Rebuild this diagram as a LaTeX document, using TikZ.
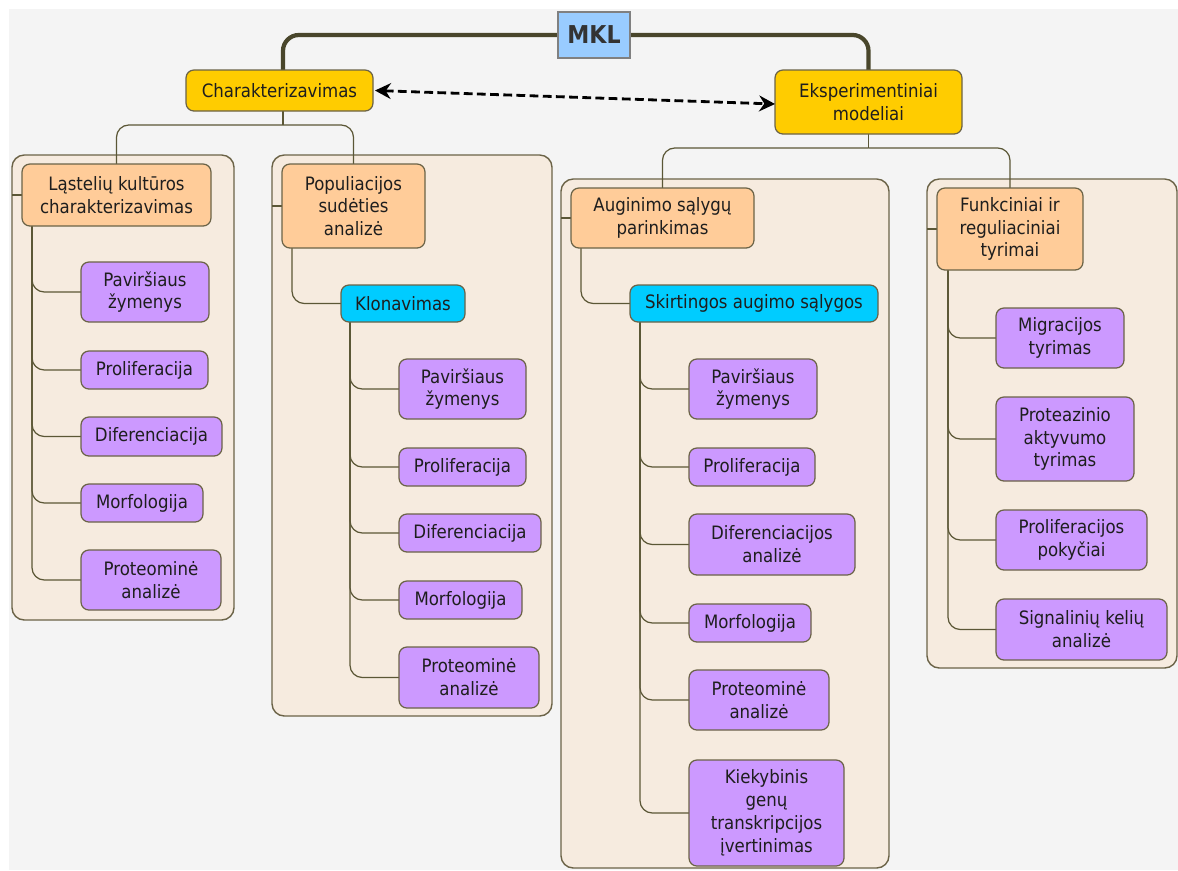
\documentclass[tikz,border=0pt]{standalone}
\usepackage{fontspec}
\setmainfont{DejaVu Sans Condensed}
\usetikzlibrary{arrows.meta}
\pgfdeclarelayer{back}
\pgfdeclarelayer{mid}
\pgfsetlayers{back,mid,main}
\definecolor{bggray}{HTML}{F4F4F4}
\definecolor{gold}{HTML}{FFCC00}
\definecolor{orng}{HTML}{FFCC99}
\definecolor{cyn}{HTML}{00CCFF}
\definecolor{purp}{HTML}{CC99FF}
\definecolor{mklblue}{HTML}{99CCFF}
\definecolor{contfill}{HTML}{F6EBDF}
\definecolor{edge}{HTML}{6B6347}
\definecolor{conncol}{HTML}{5B5736}
\definecolor{txt}{HTML}{1E1E1E}
\tikzset{
  box/.style={draw=edge, line width=0.7pt, rounded corners=4.5pt, inner sep=0pt, outer sep=0pt, align=center, text=txt, font=\fontsize{10.5}{13}\selectfont},
  goldbox/.style={box, fill=gold},
  orngbox/.style={box, fill=orng},
  cynbox/.style={box, fill=cyn},
  purpbox/.style={box, fill=purp},
  mklbox/.style={draw=gray, line width=0.8pt, fill=mklblue, inner sep=0pt, outer sep=0pt, text=black!80, font=\fontsize{14}{16}\selectfont\bfseries},
  contbox/.style={draw=edge, line width=0.8pt, fill=contfill, rounded corners=7pt, inner sep=0pt, outer sep=0pt},
  conn/.style={draw=conncol, line width=0.7pt, rounded corners=7pt},
  bigconn/.style={draw=conncol!80!black, line width=2.4pt, rounded corners=9pt},
  dbl/.style={draw=black, line width=1.6pt, dash pattern=on 5pt off 2.5pt, {Stealth[length=9pt,width=9pt]}-{Stealth[length=9pt,width=9pt]}}
}
\newcommand\B[7]{\node[#2, minimum width={(#5-#3)*0.02cm}, minimum height={(#6-#4)*0.02cm}] (#1) at ({(#3+#5)/2},{(#4+#6)/2}) {#7};}
\begin{document}
\begin{tikzpicture}[x=0.02cm, y=-0.02cm]
\useasboundingbox (0,0) rectangle (1178,870);
% background and containers
\begin{pgfonlayer}{back}
\fill[white] (0,0) rectangle (1178,870);
\fill[bggray] (9,9) rectangle (1178,870);
\B{c1}{contbox}{12}{155}{234}{620}{}
\B{c2}{contbox}{272}{155}{552}{716}{}
\B{c3}{contbox}{561}{179}{889}{868}{}
\B{c4}{contbox}{927}{179}{1177}{668}{}
\end{pgfonlayer}
% top level
\B{mkl}{mklbox}{558}{12}{630}{58}{MKL}
\B{char}{goldbox}{186}{70}{373}{111}{Charakterizavimas}
\B{eks}{goldbox}{775}{70}{962}{134}{Eksperimentiniai\\modeliai}
% group 1
\B{lk}{orngbox}{22}{164}{211}{226}{Ląstelių kultūros\\charakterizavimas}
\B{a1}{purpbox}{81}{262}{209}{322}{Paviršiaus\\žymenys}
\B{a2}{purpbox}{81}{351}{208}{389}{Proliferacija}
\B{a3}{purpbox}{81}{417}{222}{456}{Diferenciacija}
\B{a4}{purpbox}{81}{484}{203}{522}{Morfologija}
\B{a5}{purpbox}{81}{550}{221}{610}{Proteominė\\analizė}
% group 2
\B{ps}{orngbox}{282}{164}{425}{248}{Populiacijos\\sudėties\\analizė}
\B{kl}{cynbox}{341}{285}{465}{322}{Klonavimas}
\B{b1}{purpbox}{399}{359}{526}{419}{Paviršiaus\\žymenys}
\B{b2}{purpbox}{399}{448}{526}{486}{Proliferacija}
\B{b3}{purpbox}{399}{514}{541}{552}{Diferenciacija}
\B{b4}{purpbox}{399}{581}{522}{619}{Morfologija}
\B{b5}{purpbox}{399}{647}{539}{708}{Proteominė\\analizė}
% group 3
\B{ag}{orngbox}{571}{188}{754}{248}{Auginimo sąlygų\\parinkimas}
\B{sk}{cynbox}{630}{285}{878}{322}{Skirtingos augimo sąlygos}
\B{d1}{purpbox}{689}{359}{817}{419}{Paviršiaus\\žymenys}
\B{d2}{purpbox}{689}{448}{815}{486}{Proliferacija}
\B{d3}{purpbox}{689}{514}{855}{575}{Diferenciacijos\\analizė}
\B{d4}{purpbox}{689}{604}{811}{642}{Morfologija}
\B{d5}{purpbox}{689}{670}{829}{730}{Proteominė\\analizė}
\B{d6}{purpbox}{689}{760}{844}{866}{Kiekybinis\\genų\\transkripcijos\\įvertinimas}
% group 4
\B{fr}{orngbox}{937}{188}{1083}{270}{Funkciniai ir\\reguliaciniai\\tyrimai}
\B{e1}{purpbox}{996}{308}{1124}{368}{Migracijos\\tyrimas}
\B{e2}{purpbox}{996}{397}{1134}{481}{Proteazinio\\aktyvumo\\tyrimas}
\B{e3}{purpbox}{996}{510}{1147}{570}{Proliferacijos\\pokyčiai}
\B{e4}{purpbox}{996}{599}{1167}{660}{Signalinių kelių\\analizė}
% connectors
\begin{pgfonlayer}{mid}
\coordinate (tl) at ([xshift=3.5*0.02cm]char.north);
\coordinate (tr) at (eks.north);
\draw[conn] (tl) -- ++(0,-22);
\draw[conn] (tr) -- ++(0,-22);
\draw[bigconn] (mkl.west) -| ([yshift=-24*0.02cm]tl);
\draw[bigconn] (mkl.east) -| ([yshift=-24*0.02cm]tr);
\coordinate (j1) at ([yshift=-14*0.02cm]tl |- char.south);
\draw[conn] (tl |- char.south) -- (j1);
\draw[conn] (j1) -| (lk.north);
\draw[conn] (j1) -| (ps.north);
\coordinate (j2) at ([yshift=-14*0.02cm]eks.south);
\draw[conn] (eks.south) -- (j2);
\draw[conn] (j2) -| (ag.north);
\draw[conn] (j2) -| (fr.north);
\foreach \c in {a1,a2,a3,a4,a5} \draw[conn] ([xshift=10*0.02cm]lk.south west) |- (\c.west);
\draw[conn] ([xshift=10*0.02cm]ps.south west) |- (kl.west);
\foreach \c in {b1,b2,b3,b4,b5} \draw[conn] ([xshift=9*0.02cm]kl.south west) |- (\c.west);
\draw[conn] ([xshift=10*0.02cm]ag.south west) |- (sk.west);
\foreach \c in {d1,d2,d3,d4,d5,d6} \draw[conn] ([xshift=10*0.02cm]sk.south west) |- (\c.west);
\foreach \c in {e1,e2,e3,e4} \draw[conn] ([xshift=11*0.02cm]fr.south west) |- (\c.west);
\draw[conn] (c1.west |- lk.west) -- (lk.west);
\draw[conn] (c2.west |- ps.west) -- (ps.west);
\draw[conn] (c3.west |- ag.west) -- (ag.west);
\draw[conn] (c4.west |- fr.west) -- (fr.west);
\end{pgfonlayer}
\draw[dbl] ([xshift=2*0.02cm]char.east) -- ([yshift=-2*0.02cm]eks.west);
\end{tikzpicture}
\end{document}
